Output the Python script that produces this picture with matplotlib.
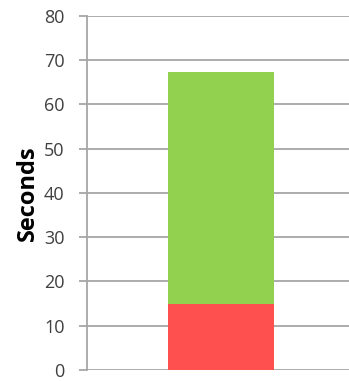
import matplotlib
matplotlib.use('Agg')
import matplotlib.pyplot as plt

matplotlib.rcParams['font.family'] = ['Open Sans', 'DejaVu Sans']

# 单柱堆叠数据
categories = ['']
part_bottom = [15.0]
part_top = [52.3]
yticks = [0, 10, 20, 30, 40, 50, 60, 70, 80]

fig = plt.figure(figsize=(3.49, 3.81), dpi=100)
ax = fig.add_axes([0.249, 0.029, 0.751, 0.929])

ax.bar(categories, part_bottom, width=0.405, color='#FF5050', zorder=3)
ax.bar(categories, part_top, width=0.405, bottom=part_bottom, color='#92D050', zorder=3)

ax.set_xlim(-0.511, 0.489)
ax.set_ylim(0, 80)
ax.set_yticks(yticks)
ax.yaxis.grid(True, color='#A6A6A6', linewidth=1.3, zorder=0)
ax.set_xticks([])

for s in ['top', 'right', 'bottom']:
    ax.spines[s].set_visible(False)
ax.spines['left'].set_color('#A6A6A6')
ax.spines['left'].set_linewidth(1.3)
ax.tick_params(axis='y', length=6, width=1.3, color='#A6A6A6',
               labelcolor='#404040', labelsize=13, pad=10)
ax.set_ylabel('Seconds', fontsize=17, fontweight='bold', labelpad=3)

fig.savefig('out.png', dpi=100)
